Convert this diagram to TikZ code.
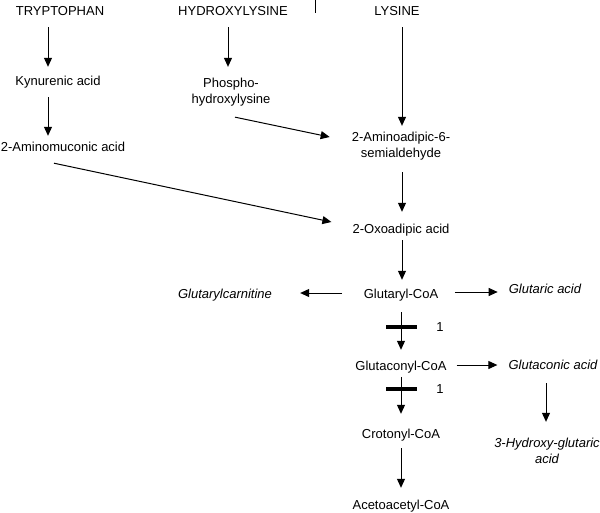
\documentclass[tikz,border=0pt]{standalone}
\usepackage{fontspec}
\setmainfont{Liberation Sans}
\usetikzlibrary{arrows.meta,calc}
\begin{document}
\begin{tikzpicture}[x=1pt,y=-1pt,
  lbl/.style={anchor=base, inner sep=0pt, text height=9.5pt, text depth=3pt, font=\fontsize{13}{16}\selectfont},
  ilbl/.style={lbl, font=\fontsize{13}{16}\selectfont\itshape},
  ml/.style={inner sep=0pt, align=center, font=\fontsize{13}{16}\selectfont},
  iml/.style={ml, font=\fontsize{13}{16}\selectfont\itshape},
  arr/.style={line width=1pt, -{Triangle[width=8pt,length=9pt]}},
  barmark/.style={fill=black, draw=none, inner sep=0pt, minimum width=31pt, minimum height=4.5pt}]
\useasboundingbox (0,0) rectangle (600,512);

% nodes
\node[lbl] (tryp) at (60,15.7) {TRYPTOPHAN};
\node[lbl] (hyl) at (233,15.7) {HYDROXYLYSINE};
\node[lbl] (lys) at (397,15.7) {LYSINE};
\node[lbl] (kyn) at (58,85.7) {Kynurenic acid};
\node[lbl] (amuc) at (63,151.7) {2-Aminomuconic acid};
\node[ml] (phl) at (231,92.3) {Phospho-\\hydroxylysine};
\node[ml] (aas) at (401,146.3) {2-Aminoadipic-6-\\semialdehyde};
\node[lbl] (oxo) at (401,233.7) {2-Oxoadipic acid};
\node[lbl] (gcoa) at (401,298.7) {Glutaryl-CoA};
\node[ilbl] (gcarn) at (225,298.7) {Glutarylcarnitine};
\node[ilbl] (gacid) at (545,293.7) {Glutaric acid};
\node[lbl] (gccoa) at (401,370.7) {Glutaconyl-CoA};
\node[ilbl] (gcacid) at (553,369.7) {Glutaconic acid};
\node[lbl] (ccoa) at (401,438.7) {Crotonyl-CoA};
\node[iml] (hga) at (547,451) {3-Hydroxy-glutaric\\acid};
\node[lbl] (acoa) at (401,509.7) {Acetoacetyl-CoA};
\node[barmark] (bar1) at (401,327) {};
\node[barmark] (bar2) at (401,389) {};
\node[lbl] (one1) at (440,331.7) {1};
\node[lbl] (one2) at (440,393.7) {1};

% stray mark at top
\draw[line width=1pt] (315,0) -- (315,13);

% connectors
\draw[arr] ($(tryp.south)+(-12,8.3)$) -- ($(kyn.north)+(-10,-9.2)$);
\draw[arr] ($(kyn.south)+(-10,8.3)$) -- ($(amuc.north)+(-15,-6.2)$);
\draw[arr] ($(hyl.south)+(-5,8.3)$) -- ($(phl.north)+(-3,-11.2)$);
\draw[arr] ($(lys.south)+(5,8.3)$) -- ($(aas.north)+(1,-6.2)$);
\draw[arr] ($(phl.south)+(4,10.6)$) -- ($(aas.west)+(-22,-9.3)$);
\draw[arr] ($(amuc.south)+(-9,8.3)$) -- ($(oxo.west)+(-21,-8.45)$);
\draw[arr] ($(aas.south)+(1,11.6)$) -- ($(oxo.north)+(1,-12.2)$);
\draw[arr] ($(oxo.south)+(1,3.3)$) -- ($(gcoa.north)+(1,-9.2)$);
\draw[arr] ($(gcoa.west)+(-21.5,-2.45)$) -- ($(gcarn.east)+(28,-2.45)$);
\draw[arr] ($(gcoa.east)+(16.5,-3.45)$) -- ($(gacid.west)+(-11,1.55)$);
\draw[arr] ($(gcoa.south)+(0,10.3)$) -- ($(gccoa.north)+(0,-11.2)$);
\draw[arr] ($(gccoa.east)+(10,-2.45)$) -- ($(gcacid.west)+(-11,-1.45)$);
\draw[arr] ($(gccoa.south)+(0,3)$) -- ($(ccoa.north)+(0,-15.2)$);
\draw[arr] ($(gcacid.south)+(-7,10.3)$) -- ($(hga.north)+(-1,-16.2)$);
\draw[arr] ($(ccoa.south)+(0,6.3)$) -- ($(acoa.north)+(0,-12.2)$);
\end{tikzpicture}
\end{document}
